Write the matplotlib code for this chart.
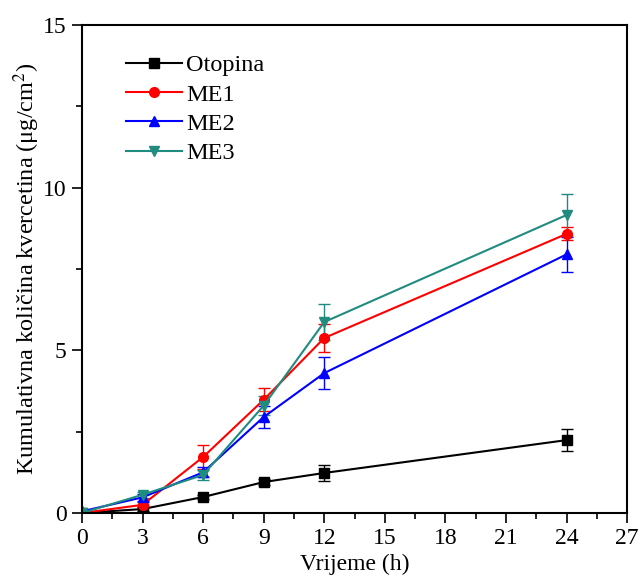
import matplotlib

matplotlib.use("Agg")

import matplotlib.pyplot as plt
from matplotlib.ticker import MultipleLocator

plt.rcParams["font.family"] = ["Liberation Serif", "DejaVu Serif"]
plt.rcParams["mathtext.fontset"] = "stix"

time_h = [0, 3, 6, 9, 12, 24]

otopina = [0.0, 0.12, 0.49, 0.95, 1.23, 2.24]
otopina_err = [0.0, 0.05, 0.06, 0.08, 0.25, 0.35]

me1 = [0.0, 0.25, 1.72, 3.48, 5.38, 8.58]
me1_err = [0.0, 0.08, 0.37, 0.35, 0.43, 0.2]

me2 = [0.05, 0.48, 1.25, 2.95, 4.3, 7.95]
me2_err = [0.0, 0.1, 0.15, 0.34, 0.5, 0.53]

me3 = [0.0, 0.56, 1.17, 3.3, 5.87, 9.16]
me3_err = [0.0, 0.1, 0.15, 0.3, 0.55, 0.64]

series = [
    ("Otopina", otopina, otopina_err, "black", "s"),
    ("ME1", me1, me1_err, "#ff0000", "o"),
    ("ME2", me2, me2_err, "#0000ff", "^"),
    ("ME3", me3, me3_err, "#208c80", "v"),
]

fig = plt.figure(figsize=(6.4, 5.82), dpi=100)
ax = fig.add_axes([0.128, 0.1186, 0.852, 0.8384])

handles = []
for label, values, errs, color, marker in series:
    cont = ax.errorbar(
        time_h,
        values,
        yerr=errs,
        color=color,
        marker=marker,
        markersize=7,
        linewidth=1.5,
        capsize=4,
        elinewidth=1.0,
        capthick=1.0,
        label=label,
    )
    handles.append(cont[0])

ax.set_xlim(0, 27)
ax.set_ylim(0, 15)
ax.xaxis.set_major_locator(MultipleLocator(3))
ax.xaxis.set_minor_locator(MultipleLocator(1.5))
ax.yaxis.set_major_locator(MultipleLocator(5))
ax.yaxis.set_minor_locator(MultipleLocator(2.5))
ax.tick_params(which="major", direction="out", length=7, width=1.2, labelsize=17, pad=4)
ax.tick_params(which="minor", direction="out", length=4, width=1.2)
for spine in ax.spines.values():
    spine.set_linewidth(1.5)

ax.set_xlabel("Vrijeme (h)", fontsize=17, labelpad=3)
ax.set_ylabel("Kumulativna količina kvercetina (μg/cm$^2$)", fontsize=17.5, labelpad=1)

ax.legend(
    handles=handles,
    labels=[s[0] for s in series],
    loc="upper left",
    bbox_to_anchor=(0.04, 0.985),
    frameon=False,
    fontsize=17.5,
    handlelength=2.3,
    handletextpad=0.2,
    labelspacing=0.3,
)

fig.savefig("out.png", dpi=100)
plt.close(fig)
